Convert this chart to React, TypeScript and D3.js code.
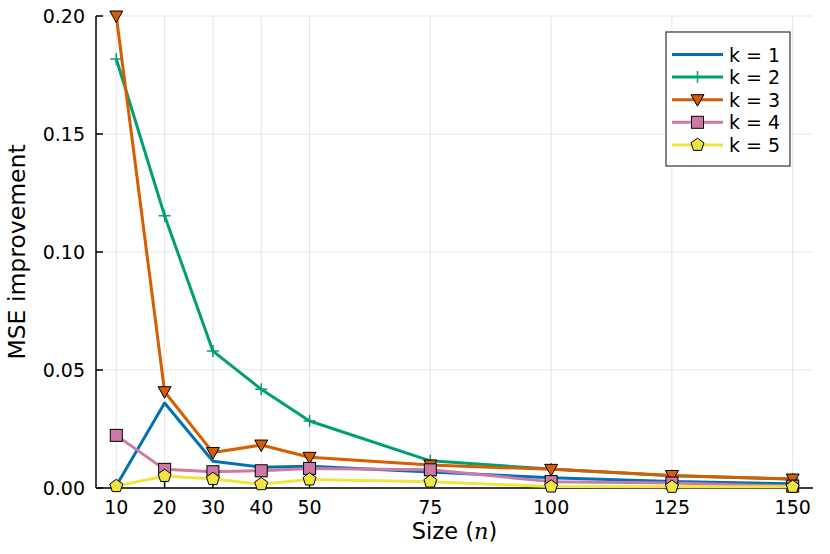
import * as d3 from "d3";

const sizes = [10, 20, 30, 40, 50, 75, 100, 125, 150];
const yTicks = [0, 0.05, 0.1, 0.15, 0.2];

const k1 = [0.001, 0.036, 0.0113, 0.0088, 0.0092, 0.0068, 0.0043, 0.0028, 0.0018];
const k2 = [0.1818, 0.1154, 0.058, 0.0418, 0.0284, 0.0115, 0.008, 0.0052, 0.0038];
const k3 = [0.2, 0.0408, 0.015, 0.0182, 0.013, 0.0097, 0.0079, 0.0053, 0.0038];
const k4 = [0.0223, 0.0079, 0.0069, 0.0073, 0.0083, 0.0077, 0.0027, 0.0021, 0.0008];
const k5 = [0.0008, 0.0051, 0.0038, 0.0016, 0.0036, 0.0027, 0.0006, 0.0005, 0.0005];

const series = [
    { name: "k = 1", values: k1, color: "#0072B2", marker: "none" },
    { name: "k = 2", values: k2, color: "#009E73", marker: "cross" },
    { name: "k = 3", values: k3, color: "#D55E00", marker: "dtriangle" },
    { name: "k = 4", values: k4, color: "#CC79A7", marker: "square" },
    { name: "k = 5", values: k5, color: "#F0E442", marker: "pentagon" },
];

const W = 830;
const H = 554;
const LEFT = 96;
const RIGHT = 813;
const TOP = 16;
const BOTTOM = 488;
const FONT = "DejaVu Sans, sans-serif";

const pad = (150 - 10) * 0.03;
const x = d3.scaleLinear().domain([10 - pad, 150 + pad]).range([LEFT, RIGHT]);
const y = d3.scaleLinear().domain([0, 0.2]).range([BOTTOM, TOP]);

const Marker = ({ kind, cx, cy, color }: { kind: string; cx: number; cy: number; color: string }) => {
    if (kind === "cross") {
        return (
            <path
                d={`M${cx - 6},${cy}H${cx + 6}M${cx},${cy - 6}V${cy + 6}`}
                stroke={color}
                strokeWidth={1.5}
            />
        );
    }
    if (kind === "dtriangle") {
        return (
            <path
                d={`M${cx - 6.5},${cy - 5}L${cx + 6.5},${cy - 5}L${cx},${cy + 6.5}Z`}
                fill={color}
                stroke="#000"
                strokeWidth={1}
            />
        );
    }
    if (kind === "square") {
        return <rect x={cx - 6} y={cy - 6} width={12} height={12} fill={color} stroke="#000" strokeWidth={1} />;
    }
    if (kind === "pentagon") {
        const r = 6.8;
        const pts = d3.range(5).map((i) => {
            const a = -Math.PI / 2 + (i * 2 * Math.PI) / 5;
            return [cx + r * Math.cos(a), cy + r * Math.sin(a)];
        });
        return <polygon points={pts.map((p) => p.join(",")).join(" ")} fill={color} stroke="#000" strokeWidth={1} />;
    }
    return null;
};

export default function App() {
    const line = d3
        .line<number>()
        .x((_, i) => x(sizes[i]))
        .y((d) => y(d));

    const legendX = 666;
    const legendY = 32;
    const rowH = 22.6;

    return (
        <svg width={W} height={H} style={{ display: "block", position: "absolute", left: 0, top: 0 }}>
            <rect width={W} height={H} fill="#fff" />
            {/* grid */}
            <g stroke="#000" strokeOpacity={0.1} strokeWidth={1}>
                {sizes.map((s) => (
                    <line key={s} x1={x(s)} x2={x(s)} y1={TOP} y2={BOTTOM} />
                ))}
                {yTicks.map((t) => (
                    <line key={t} x1={LEFT} x2={RIGHT} y1={y(t)} y2={y(t)} />
                ))}
            </g>
            {/* axes */}
            <g stroke="#000" strokeWidth={1.5}>
                <line x1={LEFT} x2={LEFT} y1={TOP} y2={BOTTOM} />
                <line x1={LEFT} x2={RIGHT} y1={BOTTOM} y2={BOTTOM} />
                {sizes.map((s) => (
                    <line key={s} x1={x(s)} x2={x(s)} y1={BOTTOM} y2={BOTTOM - 7} />
                ))}
                {yTicks.map((t) => (
                    <line key={t} x1={LEFT} x2={LEFT + 7} y1={y(t)} y2={y(t)} />
                ))}
            </g>
            <g fontFamily={FONT} fontSize={19} fill="#000">
                {sizes.map((s) => (
                    <text key={s} x={x(s)} y={BOTTOM + 26} textAnchor="middle">
                        {s}
                    </text>
                ))}
                {yTicks.map((t) => (
                    <text key={t} x={LEFT - 11} y={y(t) + 7} textAnchor="end">
                        {t.toFixed(2)}
                    </text>
                ))}
            </g>
            <text x={(LEFT + RIGHT) / 2} y={539} textAnchor="middle" fontFamily={FONT} fontSize={22.5}>
                Size (
                <tspan fontFamily="DejaVu Serif, serif" fontStyle="italic">
                    n
                </tspan>
                )
            </text>
            <text
                transform={`translate(25, ${(TOP + BOTTOM) / 2}) rotate(-90)`}
                textAnchor="middle"
                fontFamily={FONT}
                fontSize={23.5}
            >
                MSE improvement
            </text>
            {/* series */}
            {series.map((s) => (
                <g key={s.name}>
                    <path d={line(s.values)!} fill="none" stroke={s.color} strokeWidth={3} strokeLinejoin="round" />
                    {s.values.map((v, i) => (
                        <Marker key={i} kind={s.marker} cx={x(sizes[i])} cy={y(v)} color={s.color} />
                    ))}
                </g>
            ))}
            {/* legend */}
            <rect x={legendX} y={legendY} width={124} height={134} fill="#fff" stroke="#333" strokeWidth={1.2} />
            {series.map((s, i) => {
                const cy = legendY + 22.5 + i * rowH;
                return (
                    <g key={s.name}>
                        <line x1={672} x2={723} y1={cy} y2={cy} stroke={s.color} strokeWidth={3} />
                        <Marker kind={s.marker} cx={697.5} cy={cy} color={s.color} />
                        <text x={729} y={cy + 7} fontFamily={FONT} fontSize={19}>
                            {s.name}
                        </text>
                    </g>
                );
            })}
        </svg>
    );
}
